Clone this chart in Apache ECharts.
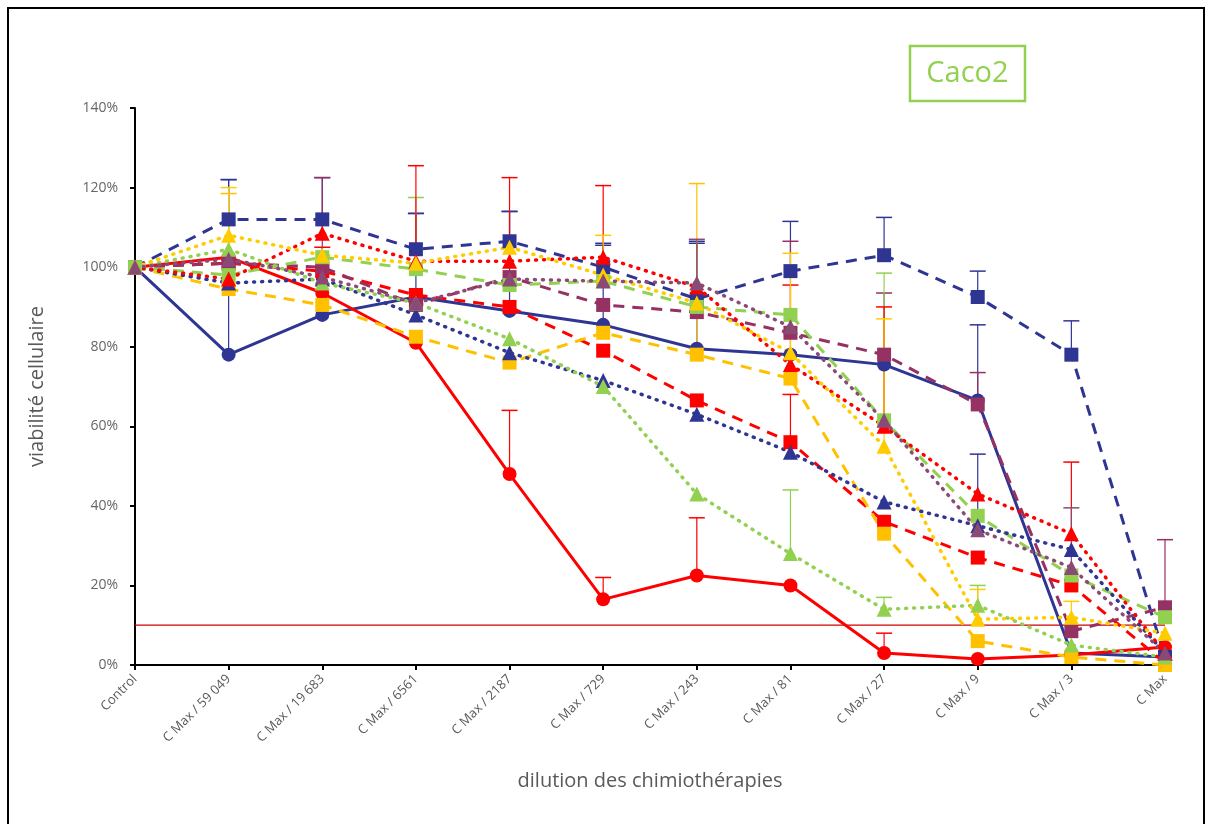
<!DOCTYPE html>
<html>
<head>
<meta charset="utf-8">
<style>html,body{margin:0;padding:0;background:#fff;}#c{width:1210px;height:824px;}</style>
<script src="https://cdn.jsdelivr.net/npm/echarts@6/dist/echarts.min.js"></script>
</head>
<body>
<div id="c"></div>
<script>
const categories = ['Control','C Max / 59 049','C Max / 19 683','C Max / 6561','C Max / 2187','C Max / 729','C Max / 243','C Max / 81','C Max / 27','C Max / 9','C Max / 3','C Max'];
const yTicks = [0,20,40,60,80,100,120,140];

const blueSolid    = [100,78,88,92.5,89,85.5,79.5,78,75.5,66.5,3,2];
const redSolid     = [100,102.5,93.5,81,48,16.5,22.5,20,3,1.5,2.5,4.5];
const blueDashed   = [100,112,112,104.5,106.5,100,92,99,103,92.5,78,2];
const redDashed    = [100,101,99,93,90,79,66.5,56,36,27,20,0.5];
const yellowDashed = [100,94.5,90.5,82.5,76,83.5,78,72,33,6,2,0];
const purpleDashed = [100,101,100,90.5,97.5,90.5,88.7,83.5,78,65.5,8.5,14.5];
const greenDashed  = [100,98,102.5,99.5,95.5,96.5,90,88,61.5,37.5,22.5,12];
const blueDotted   = [100,96,97,88,78.5,71.5,63,53.5,41,35,29,3];
const redDotted    = [100,97,108.5,101.5,101.5,102.5,95,75.5,60,43,33,3];
const greenDotted  = [100,104.5,96,91,82,70,43,28,14,15,5,2];
const yellowDotted = [100,108,103,101,105,98,91,78.5,55,11.5,12,8];
const purpleDotted = [100,102,97.5,91,97,96.5,96,85,61.5,34,24.5,3];

const errBlueSolid    = [0,44,0,21,25,20,27,0,0,19,0,0];
const errRedSolid     = [0,0,0,0,16,5.5,14.5,0,5,0,0,0];
const errBlueDashed   = [0,10,10.5,9,7.5,6,14,12.5,9.5,6.5,8.5,0];
const errRedDashed    = [0,0,6,0,0,0,0,12,0,0,0,0];
const errYellowDashed = [0,24,0,0,0,0,43,0,0,0,0,0];
const errPurpleDashed = [0,0,22.5,0,0,0,0,23,15.5,8,0,17];
const errGreenDashed  = [0,0,0,18,0,0,0,0,37,0,0,0];
const errBlueDotted   = [0,0,0,0,0,0,0,0,0,18,0,0];
const errRedDotted    = [0,0,0,24,21,18,0,20,30,0,18,0];
const errGreenDotted  = [0,0,0,0,0,0,0,16,3,5,0,0];
const errYellowDotted = [0,12,0,0,0,10,0,25,32,7.5,4,0];
const errPurpleDotted = [0,0,0,0,0,0,11,0,0,0,15,0];

const thresholdLine = 10;

const BLUE='#2F3593', RED='#FF0000', YEL='#FFC000', PUR='#953163', GRN='#92D050';
const YEL2='#FFCC00', PUR2='#8A4A76';

const defs = [
  {name:'blueSolid', data:blueSolid, err:errBlueSolid, color:BLUE, style:'solid', sym:'circle'},
  {name:'redSolid', data:redSolid, err:errRedSolid, color:RED, style:'solid', sym:'circle'},
  {name:'blueDashed', data:blueDashed, err:errBlueDashed, color:BLUE, style:'dashed', sym:'rect'},
  {name:'redDashed', data:redDashed, err:errRedDashed, color:RED, style:'dashed', sym:'rect'},
  {name:'yellowDashed', data:yellowDashed, err:errYellowDashed, color:YEL, style:'dashed', sym:'rect'},
  {name:'purpleDashed', data:purpleDashed, err:errPurpleDashed, color:PUR, style:'dashed', sym:'rect'},
  {name:'greenDashed', data:greenDashed, err:errGreenDashed, color:GRN, style:'dashed', sym:'rect'},
  {name:'blueDotted', data:blueDotted, err:errBlueDotted, color:BLUE, style:'dotted', sym:'triangle'},
  {name:'redDotted', data:redDotted, err:errRedDotted, color:RED, style:'dotted', sym:'triangle'},
  {name:'greenDotted', data:greenDotted, err:errGreenDotted, color:GRN, style:'dotted', sym:'triangle'},
  {name:'yellowDotted', data:yellowDotted, err:errYellowDotted, color:YEL2, style:'dotted', sym:'triangle'},
  {name:'purpleDotted', data:purpleDotted, err:errPurpleDotted, color:PUR2, style:'dotted', sym:'triangle'}
];

const series = [];
defs.forEach(function(d){
  const eb = [];
  d.data.forEach(function(v,i){ if(d.err[i]>0) eb.push([i, v, v + d.err[i]]); });
  series.push({
    type:'custom', name:d.name+'_err', z:1, silent:true,
    renderItem:function(params, api){
      const p0 = api.coord([api.value(0), api.value(1)]);
      const p1 = api.coord([api.value(0), api.value(2)]);
      return {type:'group', children:[
        {type:'line', shape:{x1:p0[0], y1:p0[1], x2:p1[0], y2:p1[1]}, style:{stroke:d.color, lineWidth:1.2}},
        {type:'line', shape:{x1:p1[0]-8, y1:p1[1], x2:p1[0]+8, y2:p1[1]}, style:{stroke:d.color, lineWidth:1.5}}
      ]};
    },
    data:eb
  });
});
series.push({
  type:'line', name:'seuil', data:categories.map(function(){return thresholdLine;}), z:2,
  symbol:'none', lineStyle:{color:'#D00000', width:1.2}, silent:true
});
defs.forEach(function(d){
  let ls = {color:d.color, width:3};
  if(d.style==='dashed'){ ls.type=[11,8]; }
  if(d.style==='dotted'){ ls.type=[1,7]; ls.cap='round'; ls.width=3.5; }
  series.push({
    type:'line', name:d.name, data:d.data, z:3,
    symbol:d.sym, symbolSize: d.sym==='triangle'?15:14,
    itemStyle:{color:d.color},
    lineStyle:ls, animation:false
  });
});

const chart = echarts.init(document.getElementById('c'));
chart.setOption({
  animation:false,
  backgroundColor:'#ffffff',
  grid:{left:135, top:108, right:45, bottom:159},
  xAxis:{
    type:'category', data:categories, boundaryGap:false,
    axisLine:{lineStyle:{color:'#000', width:2}},
    axisTick:{show:true, alignWithLabel:true, length:5, lineStyle:{color:'#000', width:2}},
    axisLabel:{rotate:45, color:'#595959', fontSize:13, fontFamily:'Open Sans', margin:12, interval:0},
    name:'dilution des chimiothérapies', nameLocation:'middle', nameGap:106,
    nameTextStyle:{color:'#595959', fontSize:20, fontFamily:'Open Sans'}
  },
  yAxis:{
    type:'value', min:yTicks[0], max:yTicks[yTicks.length-1], interval:20,
    axisLine:{show:true, lineStyle:{color:'#000', width:2}},
    axisTick:{show:true, length:5, lineStyle:{color:'#000', width:2}},
    splitLine:{show:false},
    axisLabel:{formatter:'{value}%', color:'#666666', fontSize:14, fontFamily:'Open Sans', margin:17},
    name:'viabilité cellulaire', nameLocation:'middle', nameGap:88,
    nameTextStyle:{color:'#595959', fontSize:20, fontFamily:'Open Sans'}
  },
  graphic:[
    {type:'rect', shape:{x:8, y:8, width:1196, height:830}, style:{fill:'none', stroke:'#000', lineWidth:2}, z:-10},
    {type:'rect', shape:{x:910, y:46, width:115, height:55}, style:{fill:'#fff', stroke:'#92D050', lineWidth:2.5}, z:10},
    {type:'text', x:967.5, y:74, style:{text:'Caco2', fill:'#92D050', font:'29px "Open Sans"', align:'center', verticalAlign:'middle'}, z:11}
  ],
  series:series
});
</script>
</body>
</html>
